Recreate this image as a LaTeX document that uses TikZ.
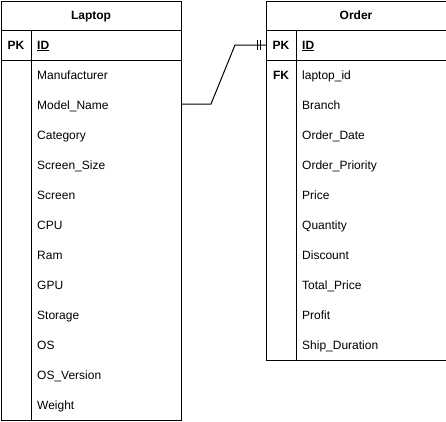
\documentclass[tikz,border=0pt]{standalone}
\usepackage{fontspec}
\setmainfont{Liberation Sans}
\usetikzlibrary{calc}
\begin{document}
\begin{tikzpicture}[x=1pt,y=-1pt,
  tbl/.style={draw,line width=1pt,inner sep=0pt,anchor=north west},
  hdr/.style={font=\fontsize{12}{14}\selectfont\bfseries,text height=9pt,text depth=3pt,inner sep=0pt},
  keycell/.style={font=\fontsize{12}{14}\selectfont\bfseries,anchor=center,text height=9pt,text depth=3pt,inner sep=0pt},
  rowcell/.style={font=\fontsize{12}{14}\selectfont,anchor=west,inner sep=0pt,text height=9pt,text depth=3pt,text width=144pt,align=left},
  sep/.style={line width=1pt},
  conn/.style={line width=1pt}]
\useasboundingbox (0,0) rectangle (446,421);
% Laptop table
\node[tbl,minimum width=180pt,minimum height=419pt] (laptop) at (1,1) {};
\draw[sep] (1,30) -- (181,30);
\draw[sep] (1,60) -- (181,60);
\draw[sep] (31,30) -- (31,420);
\node[hdr] (laptoptitle) at (91,16) {Laptop};
\node[keycell] (laptoppk) at (16,46) {PK};
\node[rowcell] (laptopid) at (37,46) {\bfseries\underline{ID}};
\foreach \t [count=\i] in {Manufacturer,Model\_Name,Category,Screen\_Size,Screen,CPU,Ram,GPU,Storage,OS,OS\_Version,Weight}
  \node[rowcell] (lrow\i) at (37,46+30*\i) {\t};
% Order table
\node[tbl,minimum width=179.5pt,minimum height=359pt] (order) at (266,1) {};
\draw[sep] (266,30) -- (445.5,30);
\draw[sep] (266,60) -- (445.5,60);
\draw[sep] (296,30) -- (296,360);
\node[hdr] (ordertitle) at (356,16) {Order};
\node[keycell] (orderpk) at (281,46) {PK};
\node[rowcell] (orderid) at (302,46) {\bfseries\underline{ID}};
\node[keycell] (orderfk) at (281,76) {FK};
\foreach \t [count=\i] in {laptop\_id,Branch,Order\_Date,Order\_Priority,Price,Quantity,Discount,Total\_Price,Profit,Ship\_Duration}
  \node[rowcell] (orow\i) at (302,46+30*\i) {\t};
% connector
\coordinate (cstart) at (181,104);
\coordinate (cend) at (266,45);
\draw[conn] (cstart) -- ++(30,0) -- ($(cend)+(-31,0)$) -- (cend);
\draw[conn] ($(cend)+(-9,-5)$) -- ++(0,10);
\draw[conn] ($(cend)+(-6,-5)$) -- ++(0,10);
\end{tikzpicture}
\end{document}
